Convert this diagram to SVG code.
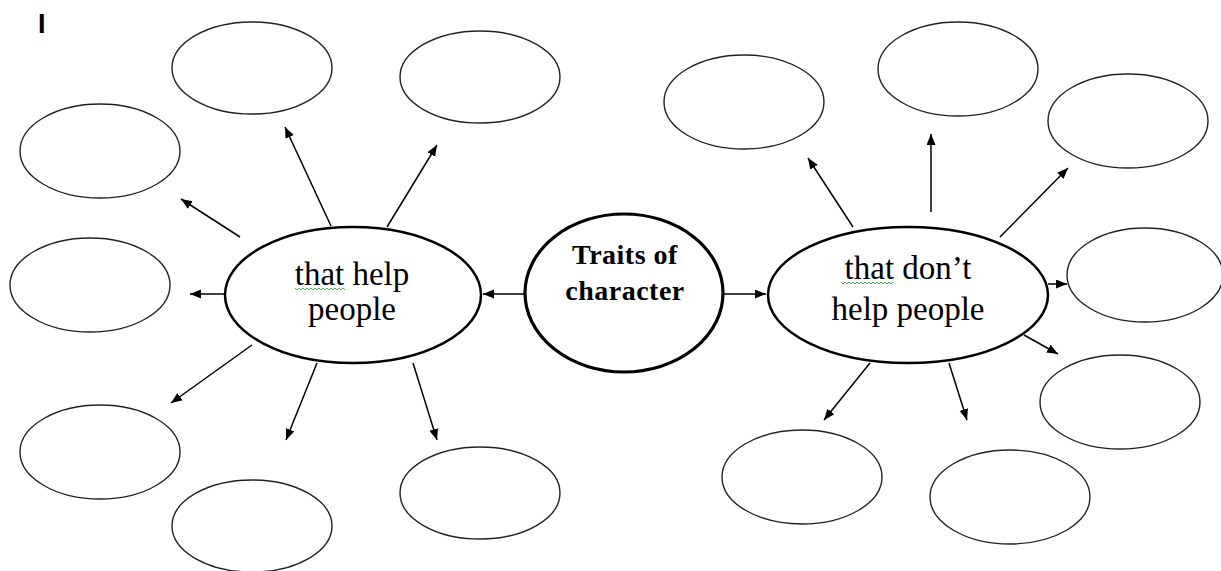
<svg xmlns="http://www.w3.org/2000/svg" width="1221" height="571" viewBox="0 0 1221 571">
<style>
.empty{fill:#fff;stroke:#222;stroke-width:1.4}
.hub{fill:#fff;stroke:#000;stroke-width:2.5}
.core{fill:#fff;stroke:#000;stroke-width:3.2}
.conn line{stroke:#000;stroke-width:1.5;marker-end:url(#ah)}
.lbl{font-family:"Liberation Serif","Times New Roman",serif;font-size:33px;fill:#000;text-anchor:middle}
.core-lbl{font-family:"Liberation Serif","Times New Roman",serif;font-size:28px;font-weight:bold;fill:#000;text-anchor:middle;letter-spacing:0.5px}
.squig{fill:none;stroke:#4caf50;stroke-width:1}
</style>
<defs>
<marker id="ah" markerUnits="userSpaceOnUse" markerWidth="12" markerHeight="10" refX="11" refY="4.5" orient="auto">
<path d="M0,0 L11,4.5 L0,9 z" fill="#000"/>
</marker>
</defs>
<rect width="1221" height="571" fill="#fff"/>
<text x="38" y="33" font-family="Liberation Sans,Arial,sans-serif" font-size="27" font-weight="bold" fill="#000">I</text>

<g id="connectors" class="conn">
<line x1="525" y1="294" x2="483" y2="294"/>
<line x1="724" y1="294" x2="766" y2="294"/>
<line x1="224" y1="294" x2="190" y2="294"/>
<line x1="240" y1="237" x2="181" y2="199"/>
<line x1="331" y1="226" x2="285" y2="127"/>
<line x1="387" y1="227" x2="437" y2="145"/>
<line x1="252" y1="345" x2="171" y2="403"/>
<line x1="317" y1="363" x2="286" y2="440"/>
<line x1="413" y1="363" x2="437" y2="440"/>
<line x1="853" y1="227" x2="808" y2="158"/>
<line x1="931" y1="212" x2="931" y2="134"/>
<line x1="1000" y1="237" x2="1068" y2="168"/>
<line x1="1048" y1="284" x2="1067" y2="284"/>
<line x1="1024" y1="335" x2="1058" y2="354"/>
<line x1="870" y1="363" x2="824" y2="420"/>
<line x1="949" y1="363" x2="967" y2="420"/>
</g>

<g id="node-core"><ellipse class="core" cx="624" cy="293" rx="99" ry="79"/>
<text class="core-lbl" x="625" y="264">Traits of</text>
<text class="core-lbl" x="625" y="300">character</text></g>

<g id="node-help"><ellipse class="hub" cx="353" cy="295" rx="128" ry="68"/>
<text class="lbl" x="352" y="285">that help</text>
<text class="lbl" x="352" y="320">people</text>
<path class="squig" d="M295,288 l2,2 l2,-2 l2,2 l2,-2 l2,2 l2,-2 l2,2 l2,-2 l2,2 l2,-2 l2,2 l2,-2 l2,2 l2,-2 l2,2 l2,-2 l2,2 l2,-2 l2,2 l2,-2 l2,2 l2,-2 l2,2 l2,-2 l2,2"/></g>

<g id="node-nohelp"><ellipse class="hub" cx="908" cy="295" rx="140" ry="68"/>
<text class="lbl" x="908" y="279">that don’t</text>
<text class="lbl" x="908" y="320">help people</text>
<path class="squig" d="M841,282 l2,2 l2,-2 l2,2 l2,-2 l2,2 l2,-2 l2,2 l2,-2 l2,2 l2,-2 l2,2 l2,-2 l2,2 l2,-2 l2,2 l2,-2 l2,2 l2,-2 l2,2 l2,-2 l2,2 l2,-2 l2,2 l2,-2 l2,2 l2,-2"/></g>

<g id="e1"><ellipse class="empty" cx="252" cy="68" rx="80" ry="46"/></g>
<g id="e2"><ellipse class="empty" cx="480" cy="77" rx="80" ry="46"/></g>
<g id="e3"><ellipse class="empty" cx="100" cy="151" rx="80" ry="47"/></g>
<g id="e4"><ellipse class="empty" cx="90" cy="285" rx="80" ry="47"/></g>
<g id="e5"><ellipse class="empty" cx="100" cy="452" rx="80" ry="47"/></g>
<g id="e6"><ellipse class="empty" cx="252" cy="526" rx="80" ry="46"/></g>
<g id="e7"><ellipse class="empty" cx="480" cy="493" rx="80" ry="46"/></g>
<g id="e8"><ellipse class="empty" cx="744" cy="102" rx="80" ry="47"/></g>
<g id="e9"><ellipse class="empty" cx="958" cy="69" rx="80" ry="47"/></g>
<g id="e10"><ellipse class="empty" cx="1128" cy="121" rx="80" ry="47"/></g>
<g id="e11"><ellipse class="empty" cx="1145" cy="275" rx="78" ry="47"/></g>
<g id="e12"><ellipse class="empty" cx="1120" cy="402" rx="80" ry="47"/></g>
<g id="e13"><ellipse class="empty" cx="802" cy="477" rx="80" ry="47"/></g>
<g id="e14"><ellipse class="empty" cx="1010" cy="497" rx="80" ry="47"/></g>
</svg>
